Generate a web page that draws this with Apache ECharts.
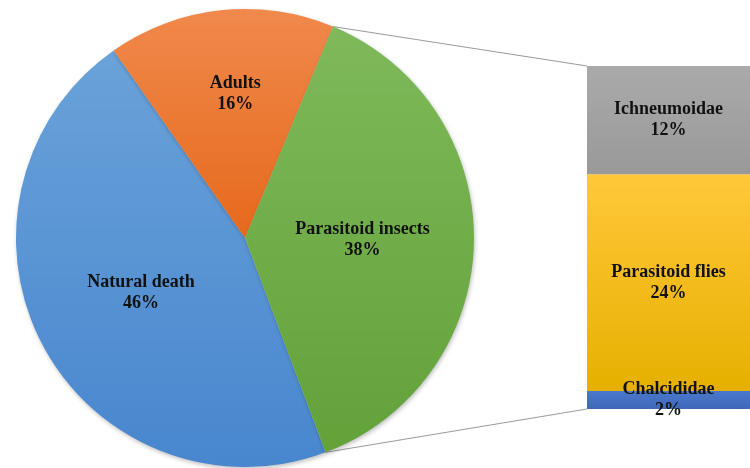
<!DOCTYPE html>
<html>
<head>
<meta charset="utf-8">
<script src="https://cdn.jsdelivr.net/npm/echarts@6/dist/echarts.min.js"></script>
<style>html,body{margin:0;padding:0;background:#fff;}#c{width:750px;height:468px;}</style>
</head>
<body>
<div id="c"></div>
<script>
// Data
const pieNames = ['Natural death', 'Adults', 'Parasitoid insects'];
const pieValues = [46, 16, 38];
const barNames = ['Chalcididae', 'Parasitoid flies', 'Ichneumoidae'];
const barValues = [2, 24, 12];

// Styles / layout
const pieGrad = [['#6aa2d9', '#4886ce'], ['#f0894c', '#e6691c'], ['#7fb95a', '#62a239']];
const barGrad = [['#4a78cc', '#3f67b8'], ['#ffc83a', '#e6b000'], ['#aaaaaa', '#999999']];
const cx = 245, cy = 238, R = 229;
const startDeg = -69.4; // echarts angle (ccw from 3 o'clock)
const gLeft = 587, gTop = 66, gW = 173, gH = 343;
const font = 'Liberation Serif';

function grad(c) {
  return new echarts.graphic.LinearGradient(0, 0, 0, 1, [{offset: 0, color: c[0]}, {offset: 1, color: c[1]}]);
}

const chart = echarts.init(document.getElementById('c'), null, {renderer: 'canvas'});

const barTotal = barValues.reduce((a, b) => a + b, 0);

const labelStyle = {fontFamily: font, fontWeight: 'bold', fontSize: 18, lineHeight: 21, color: '#111'};

const barSeries = barNames.map((n, i) => ({
  name: n,
  type: 'bar',
  stack: 'mix',
  barWidth: '100%',
  xAxisIndex: 0, yAxisIndex: 0,
  data: [barValues[i]],
  itemStyle: {color: grad(barGrad[i])},
  label: Object.assign({show: true, position: 'inside', formatter: '{a}\n{c}%'}, labelStyle),
  silent: true
}));

// connector lines: from pie edge where "Parasitoid insects" slice begins/ends to bar corners
const total = pieValues.reduce((a, b) => a + b, 0);
const parIdx = 2;
let before = 0;
for (let i = 0; i < parIdx; i++) before += pieValues[i];
const a1 = (startDeg - before / total * 360) * Math.PI / 180; // start of green (clockwise)
const a0 = startDeg * Math.PI / 180; // end of green = start of first slice
const pTop = [cx + R * Math.cos(a1), cy - R * Math.sin(a1)];
const pBot = [cx + R * Math.cos(a0), cy - R * Math.sin(a0)];

chart.setOption({
  animation: false,
  backgroundColor: '#fff',
  grid: {left: gLeft, top: gTop, width: gW, height: gH},
  xAxis: {type: 'category', data: [''], show: false},
  yAxis: {type: 'value', min: 0, max: barTotal, show: false},
  graphic: [
    {type: 'line', shape: {x1: pTop[0], y1: pTop[1], x2: gLeft, y2: gTop}, style: {stroke: '#9a9a9a', lineWidth: 1}, z: 0},
    {type: 'line', shape: {x1: pBot[0], y1: pBot[1], x2: gLeft, y2: gTop + gH}, style: {stroke: '#9a9a9a', lineWidth: 1}, z: 0}
  ],
  series: [
    {
      type: 'pie',
      center: [cx, cy],
      radius: R,
      startAngle: startDeg,
      clockwise: true,
      silent: true,
      data: pieNames.map((n, i) => ({
        name: n, value: pieValues[i],
        itemStyle: {color: grad(pieGrad[i]), shadowColor: 'rgba(0,0,0,0.25)', shadowBlur: 4, shadowOffsetX: 1, shadowOffsetY: 2}
      })),
      label: Object.assign({show: true, position: 'inside', formatter: '{b}\n{d}%'}, labelStyle),
      labelLayout: function (p) {
        if (p.dataIndex === 1) return {dx: 3, dy: -27};
        return {};
      },
      labelLine: {show: false}
    }
  ].concat(barSeries)
});
</script>
</body>
</html>
